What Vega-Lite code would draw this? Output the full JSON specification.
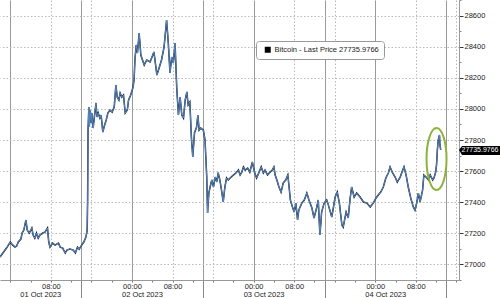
{
 "$schema": "https://vega.github.io/schema/vega-lite/v6.json",
 "width": 459,
 "height": 280,
 "autosize": {"type": "none"},
 "padding": {"left": 0, "top": 0, "right": 41, "bottom": 18},
 "background": "white",
 "config": {
  "view": {"stroke": null},
  "font": "Liberation Sans",
  "axis": {"labelFont": "Liberation Sans", "labelFontSize": 7.5, "labelColor": "#222", "domainColor": "#999", "tickColor": "#777"}
 },
 "datasets": {
  "btc": [
   {"t":"2023-09-30T21:58:00Z","v":27045},{"t":"2023-09-30T23:15:00Z","v":27103},
   {"t":"2023-10-01T00:00:00Z","v":27142},{"t":"2023-10-01T00:30:00Z","v":27122},{"t":"2023-10-01T00:55:00Z","v":27109},{"t":"2023-10-01T01:15:00Z","v":27116},{"t":"2023-10-01T01:35:00Z","v":27142},{"t":"2023-10-01T02:05:00Z","v":27161},{"t":"2023-10-01T02:20:00Z","v":27200},{"t":"2023-10-01T02:40:00Z","v":27219},{"t":"2023-10-01T03:05:00Z","v":27284},{"t":"2023-10-01T03:20:00Z","v":27219},{"t":"2023-10-01T03:45:00Z","v":27200},{"t":"2023-10-01T04:15:00Z","v":27232},{"t":"2023-10-01T04:30:00Z","v":27187},{"t":"2023-10-01T04:50:00Z","v":27167},{"t":"2023-10-01T05:10:00Z","v":27200},{"t":"2023-10-01T05:30:00Z","v":27167},{"t":"2023-10-01T05:50:00Z","v":27187},{"t":"2023-10-01T06:25:00Z","v":27200},{"t":"2023-10-01T06:50:00Z","v":27206},{"t":"2023-10-01T07:20:00Z","v":27232},{"t":"2023-10-01T07:35:00Z","v":27142},{"t":"2023-10-01T07:50:00Z","v":27109},{"t":"2023-10-01T08:20:00Z","v":27135},{"t":"2023-10-01T08:50:00Z","v":27122},{"t":"2023-10-01T09:30:00Z","v":27135},{"t":"2023-10-01T09:50:00Z","v":27109},{"t":"2023-10-01T10:20:00Z","v":27103},{"t":"2023-10-01T10:50:00Z","v":27071},{"t":"2023-10-01T11:10:00Z","v":27090},{"t":"2023-10-01T11:45:00Z","v":27096},{"t":"2023-10-01T12:25:00Z","v":27090},{"t":"2023-10-01T12:50:00Z","v":27071},{"t":"2023-10-01T13:15:00Z","v":27109},{"t":"2023-10-01T13:35:00Z","v":27096},{"t":"2023-10-01T14:05:00Z","v":27122},{"t":"2023-10-01T14:30:00Z","v":27142},{"t":"2023-10-01T14:55:00Z","v":27174},{"t":"2023-10-01T15:10:00Z","v":27219},{"t":"2023-10-01T15:15:00Z","v":27413},{"t":"2023-10-01T15:20:00Z","v":27864},{"t":"2023-10-01T15:30:00Z","v":28013},{"t":"2023-10-01T15:35:00Z","v":27884},{"t":"2023-10-01T15:45:00Z","v":27993},{"t":"2023-10-01T15:55:00Z","v":27910},{"t":"2023-10-01T16:05:00Z","v":27974},{"t":"2023-10-01T16:20:00Z","v":27877},{"t":"2023-10-01T16:35:00Z","v":27948},{"t":"2023-10-01T16:55:00Z","v":28039},{"t":"2023-10-01T17:05:00Z","v":27948},{"t":"2023-10-01T17:20:00Z","v":27974},{"t":"2023-10-01T17:40:00Z","v":27942},{"t":"2023-10-01T17:55:00Z","v":27961},{"t":"2023-10-01T18:15:00Z","v":27851},{"t":"2023-10-01T18:30:00Z","v":27884},{"t":"2023-10-01T18:55:00Z","v":27929},{"t":"2023-10-01T19:15:00Z","v":27974},{"t":"2023-10-01T19:40:00Z","v":27993},{"t":"2023-10-01T20:05:00Z","v":27980},{"t":"2023-10-01T20:30:00Z","v":28013},{"t":"2023-10-01T20:50:00Z","v":28155},{"t":"2023-10-01T21:05:00Z","v":28077},{"t":"2023-10-01T21:25:00Z","v":28058},{"t":"2023-10-01T21:40:00Z","v":28103},{"t":"2023-10-01T22:00:00Z","v":28077},{"t":"2023-10-01T22:20:00Z","v":28090},{"t":"2023-10-01T22:40:00Z","v":27974},{"t":"2023-10-01T23:05:00Z","v":27993},{"t":"2023-10-01T23:20:00Z","v":28058},{"t":"2023-10-01T23:45:00Z","v":28090},
   {"t":"2023-10-02T00:10:00Z","v":28135},{"t":"2023-10-02T00:25:00Z","v":28187},{"t":"2023-10-02T00:35:00Z","v":28316},{"t":"2023-10-02T00:50:00Z","v":28413},{"t":"2023-10-02T01:05:00Z","v":28361},{"t":"2023-10-02T01:25:00Z","v":28490},{"t":"2023-10-02T01:45:00Z","v":28348},{"t":"2023-10-02T02:05:00Z","v":28316},{"t":"2023-10-02T02:25:00Z","v":28284},{"t":"2023-10-02T02:55:00Z","v":28316},{"t":"2023-10-02T03:35:00Z","v":28303},{"t":"2023-10-02T04:20:00Z","v":28368},{"t":"2023-10-02T04:55:00Z","v":28219},{"t":"2023-10-02T05:25:00Z","v":28271},{"t":"2023-10-02T05:50:00Z","v":28316},{"t":"2023-10-02T06:20:00Z","v":28400},{"t":"2023-10-02T06:50:00Z","v":28574},{"t":"2023-10-02T07:10:00Z","v":28426},{"t":"2023-10-02T07:30:00Z","v":28232},{"t":"2023-10-02T07:50:00Z","v":28335},{"t":"2023-10-02T08:10:00Z","v":28297},{"t":"2023-10-02T08:30:00Z","v":28426},{"t":"2023-10-02T08:50:00Z","v":28135},{"t":"2023-10-02T09:10:00Z","v":27961},{"t":"2023-10-02T09:30:00Z","v":28077},{"t":"2023-10-02T09:50:00Z","v":27961},{"t":"2023-10-02T10:10:00Z","v":27942},{"t":"2023-10-02T10:30:00Z","v":28058},{"t":"2023-10-02T10:50:00Z","v":28110},{"t":"2023-10-02T11:05:00Z","v":28026},{"t":"2023-10-02T11:25:00Z","v":28045},{"t":"2023-10-02T11:45:00Z","v":27800},{"t":"2023-10-02T12:00:00Z","v":27690},{"t":"2023-10-02T12:20:00Z","v":27845},{"t":"2023-10-02T12:45:00Z","v":27884},{"t":"2023-10-02T13:00:00Z","v":27961},{"t":"2023-10-02T13:15:00Z","v":27864},{"t":"2023-10-02T13:35:00Z","v":27877},{"t":"2023-10-02T14:05:00Z","v":27864},{"t":"2023-10-02T14:25:00Z","v":27800},{"t":"2023-10-02T14:45:00Z","v":27561},{"t":"2023-10-02T14:55:00Z","v":27329},{"t":"2023-10-02T15:10:00Z","v":27458},{"t":"2023-10-02T15:25:00Z","v":27497},{"t":"2023-10-02T15:45:00Z","v":27542},{"t":"2023-10-02T16:05:00Z","v":27497},{"t":"2023-10-02T16:25:00Z","v":27561},{"t":"2023-10-02T16:45:00Z","v":27529},{"t":"2023-10-02T17:00:00Z","v":27590},{"t":"2023-10-02T17:20:00Z","v":27542},{"t":"2023-10-02T17:40:00Z","v":27477},{"t":"2023-10-02T18:00:00Z","v":27400},{"t":"2023-10-02T18:20:00Z","v":27497},{"t":"2023-10-02T18:40:00Z","v":27555},{"t":"2023-10-02T19:00:00Z","v":27542},{"t":"2023-10-02T19:35:00Z","v":27561},{"t":"2023-10-02T20:00:00Z","v":27574},{"t":"2023-10-02T20:30:00Z","v":27587},{"t":"2023-10-02T21:00:00Z","v":27606},{"t":"2023-10-02T21:20:00Z","v":27574},{"t":"2023-10-02T21:40:00Z","v":27593},{"t":"2023-10-02T22:00:00Z","v":27626},{"t":"2023-10-02T22:20:00Z","v":27606},{"t":"2023-10-02T22:50:00Z","v":27619},{"t":"2023-10-02T23:15:00Z","v":27593},{"t":"2023-10-02T23:45:00Z","v":27658},
   {"t":"2023-10-03T00:10:00Z","v":27593},{"t":"2023-10-03T00:35:00Z","v":27555},{"t":"2023-10-03T01:05:00Z","v":27593},{"t":"2023-10-03T01:30:00Z","v":27626},{"t":"2023-10-03T01:55:00Z","v":27587},{"t":"2023-10-03T02:15:00Z","v":27606},{"t":"2023-10-03T02:45:00Z","v":27574},{"t":"2023-10-03T03:15:00Z","v":27593},{"t":"2023-10-03T03:40:00Z","v":27606},{"t":"2023-10-03T04:00:00Z","v":27626},{"t":"2023-10-03T04:15:00Z","v":27574},{"t":"2023-10-03T04:35:00Z","v":27542},{"t":"2023-10-03T05:00:00Z","v":27497},{"t":"2023-10-03T05:25:00Z","v":27464},{"t":"2023-10-03T05:50:00Z","v":27522},{"t":"2023-10-03T06:20:00Z","v":27542},{"t":"2023-10-03T06:45:00Z","v":27574},{"t":"2023-10-03T07:00:00Z","v":27497},{"t":"2023-10-03T07:15:00Z","v":27413},{"t":"2023-10-03T07:40:00Z","v":27368},{"t":"2023-10-03T08:00:00Z","v":27335},{"t":"2023-10-03T08:20:00Z","v":27393},{"t":"2023-10-03T08:40:00Z","v":27284},{"t":"2023-10-03T08:55:00Z","v":27348},{"t":"2023-10-03T09:30:00Z","v":27393},{"t":"2023-10-03T10:00:00Z","v":27413},{"t":"2023-10-03T10:30:00Z","v":27458},{"t":"2023-10-03T10:55:00Z","v":27413},{"t":"2023-10-03T11:30:00Z","v":27361},{"t":"2023-10-03T11:55:00Z","v":27297},{"t":"2023-10-03T12:25:00Z","v":27361},{"t":"2023-10-03T12:45:00Z","v":27413},{"t":"2023-10-03T12:55:00Z","v":27297},{"t":"2023-10-03T13:05:00Z","v":27187},{"t":"2023-10-03T13:25:00Z","v":27335},{"t":"2023-10-03T13:55:00Z","v":27393},{"t":"2023-10-03T14:25:00Z","v":27413},{"t":"2023-10-03T14:45:00Z","v":27380},{"t":"2023-10-03T15:25:00Z","v":27303},{"t":"2023-10-03T16:05:00Z","v":27432},{"t":"2023-10-03T16:30:00Z","v":27464},{"t":"2023-10-03T16:55:00Z","v":27393},{"t":"2023-10-03T17:25:00Z","v":27251},{"t":"2023-10-03T17:40:00Z","v":27238},{"t":"2023-10-03T18:15:00Z","v":27335},{"t":"2023-10-03T18:40:00Z","v":27297},{"t":"2023-10-03T19:00:00Z","v":27413},{"t":"2023-10-03T19:20:00Z","v":27497},{"t":"2023-10-03T19:50:00Z","v":27432},{"t":"2023-10-03T20:20:00Z","v":27458},{"t":"2023-10-03T21:00:00Z","v":27432},{"t":"2023-10-03T21:40:00Z","v":27400},{"t":"2023-10-03T22:20:00Z","v":27393},{"t":"2023-10-03T23:00:00Z","v":27368},{"t":"2023-10-03T23:35:00Z","v":27393},
   {"t":"2023-10-04T00:10:00Z","v":27426},{"t":"2023-10-04T00:35:00Z","v":27445},{"t":"2023-10-04T01:05:00Z","v":27464},{"t":"2023-10-04T01:35:00Z","v":27497},{"t":"2023-10-04T02:05:00Z","v":27555},{"t":"2023-10-04T02:35:00Z","v":27587},{"t":"2023-10-04T02:55:00Z","v":27626},{"t":"2023-10-04T03:25:00Z","v":27587},{"t":"2023-10-04T03:55:00Z","v":27561},{"t":"2023-10-04T04:20:00Z","v":27529},{"t":"2023-10-04T04:55:00Z","v":27561},{"t":"2023-10-04T05:25:00Z","v":27606},{"t":"2023-10-04T05:40:00Z","v":27626},{"t":"2023-10-04T06:05:00Z","v":27574},{"t":"2023-10-04T06:30:00Z","v":27497},{"t":"2023-10-04T07:00:00Z","v":27426},{"t":"2023-10-04T07:30:00Z","v":27368},{"t":"2023-10-04T07:50:00Z","v":27348},{"t":"2023-10-04T08:10:00Z","v":27393},{"t":"2023-10-04T08:30:00Z","v":27458},{"t":"2023-10-04T08:50:00Z","v":27400},{"t":"2023-10-04T09:20:00Z","v":27477},{"t":"2023-10-04T09:35:00Z","v":27574},{"t":"2023-10-04T10:00:00Z","v":27561},{"t":"2023-10-04T10:30:00Z","v":27542},{"t":"2023-10-04T10:50:00Z","v":27574},{"t":"2023-10-04T11:20:00Z","v":27542},{"t":"2023-10-04T11:35:00Z","v":27555},{"t":"2023-10-04T11:55:00Z","v":27593},{"t":"2023-10-04T12:05:00Z","v":27639},{"t":"2023-10-04T12:15:00Z","v":27735},{"t":"2023-10-04T12:25:00Z","v":27800},{"t":"2023-10-04T12:40:00Z","v":27832},{"t":"2023-10-04T12:45:00Z","v":27768},{"t":"2023-10-04T12:55:00Z","v":27735.9766}
  ],
  "ann": [{"t": "2023-10-04T12:05:00Z", "v": 27677}],
  "last": [{"t": "2023-10-04T16:31:00Z", "v": 27735.9766, "label": "27735.9766"}]
 },
 "encoding": {
  "x": {
   "field": "t", "type": "temporal", "title": null,
   "scale": {"type": "utc", "domain": [1696111080000, 1696437060000]},
   "axis": {
    "values": [1696118400000,1696132800000,1696147200000,1696161600000,1696168800000,1696176000000,1696190400000,1696204800000,1696219200000,1696233600000,1696248000000,1696255200000,1696262400000,1696276800000,1696291200000,1696305600000,1696320000000,1696334400000,1696341600000,1696348800000,1696363200000,1696377600000,1696392000000,1696406400000,1696420800000,1696428000000,1696435200000],
    "labelExpr": "datum.value < 1696120000000 ? '' : utchours(datum.value) == 14 ? utcFormat(datum.value, '%d %b %Y') : (utchours(datum.value) == 0 || utchours(datum.value) == 8) ? utcFormat(datum.value, '%H:%M') : ''",
    "labelOverlap": false, "labelFlush": false, "labelBound": false,
    "labelAlign": "center", "labelBaseline": "top",
    "labelOffset": {"condition": [{"test": "utchours(datum.value) != 14", "value": 0}, {"test": "utcdate(datum.value) == 1", "value": -41}], "value": -61},
    "labelPadding": {"condition": {"test": "utchours(datum.value) == 14", "value": -8}, "value": 0},
    "tickSize": {"condition": {"test": "utchours(datum.value) == 14", "value": 18}, "value": 2},
    "tickColor": {"condition": {"test": "utchours(datum.value) == 14", "value": "#888"}, "value": "#777"},
    "tickOpacity": {"condition": {"test": "datum.value == 1696428000000", "value": 0}, "value": 1},
    "grid": true,
    "gridDash": {"condition": {"test": "utchours(datum.value) == 0 || utchours(datum.value) == 14", "value": []}, "value": [1.5, 2]},
    "gridColor": {"condition": {"test": "utchours(datum.value) == 0 || utchours(datum.value) == 14", "value": "#9a9a9a"}, "value": "#b8b8b8"},
    "gridOpacity": {"condition": {"test": "(utchours(datum.value) % 8 == 0 || utchours(datum.value) == 14) && datum.value != 1696428000000", "value": 1}, "value": 0}
   }
  },
  "y": {
   "field": "v", "type": "quantitative", "title": null,
   "scale": {"domain": [26897, 28703], "nice": false, "zero": false},
   "axis": {
    "orient": "right",
    "values": [26900,27000,27100,27200,27300,27400,27500,27600,27700,27800,27900,28000,28100,28200,28300,28400,28500,28600,28700],
    "labelExpr": "datum.value % 200 == 0 ? format(datum.value, 'd') : ''",
    "labelPadding": 1,
    "labelBaseline": "middle",
    "tickSize": {"condition": {"test": "datum.value % 200 == 0", "value": 4}, "value": 2},
    "tickColor": {"condition": {"test": "datum.value % 200 == 0", "value": "#333"}, "value": "#888"},
    "grid": true,
    "gridDash": [1.5, 2],
    "gridColor": "#b8b8b8",
    "gridOpacity": {"condition": {"test": "datum.value % 200 == 0", "value": 1}, "value": 0}
   }
  }
 },
 "layer": [
  {"data": {"name": "btc"}, "mark": {"type": "line", "color": "#111a26", "strokeWidth": 1.5, "interpolate": "linear"}},
  {"data": {"name": "btc"}, "mark": {"type": "line", "strokeWidth": 0.9},
   "encoding": {
    "color": {"datum": "Bitcoin - Last Price 27735.9766", "type": "nominal", "scale": {"range": ["#5b92d4"]},
     "legend": {"orient": "none", "legendX": 256, "legendY": 41, "title": null, "symbolType": "square", "symbolSize": 36,
      "labelFont": "Liberation Sans", "labelFontSize": 7.5, "labelColor": "#222", "padding": 5, "strokeColor": "#999",
      "cornerRadius": 3, "fillColor": "white", "symbolOffset": 3, "labelOffset": 3,
      "encode": {"symbols": {"update": {"fill": {"value": "#000"}, "stroke": {"value": "#000"}, "strokeWidth": {"value": 0}, "shape": {"value": "square"}}}}}
    }
   }
  },
  {"data": {"name": "ann"}, "mark": {"type": "point", "filled": false, "stroke": "#8db33c", "strokeWidth": 2, "size": 4, "opacity": 1,
    "shape": "M 0 -31 C 5.52 -31 10 -17.12 10 0 C 10 17.12 5.52 31 0 31 C -5.52 31 -10 17.12 -10 0 C -10 -17.12 -5.52 -31 0 -31 Z"}},
  {"data": {"name": "last"}, "mark": {"type": "point", "filled": true, "fill": "#000", "strokeWidth": 0, "size": 4, "opacity": 1,
    "shape": "M 0 0 L 3 -4 L 41 -4 L 41 5 L 3 5 Z"}},
  {"data": {"name": "last"}, "mark": {"type": "text", "color": "white", "font": "Liberation Sans", "fontSize": 7, "align": "left", "baseline": "middle", "dx": 2.5, "dy": 0.5},
   "encoding": {"text": {"field": "label"}}}
 ]
}
